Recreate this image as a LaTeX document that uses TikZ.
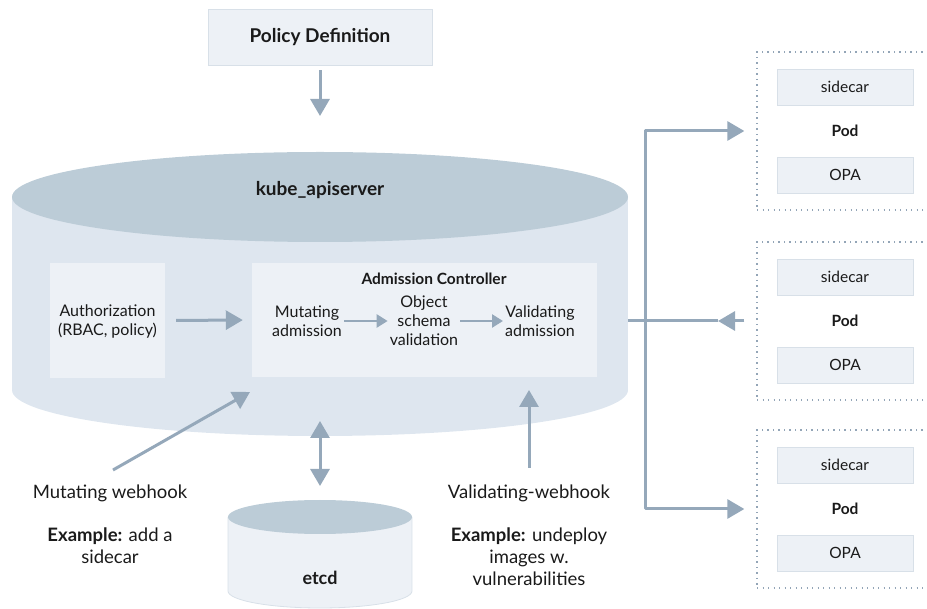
\documentclass[tikz,border=0pt]{standalone}
\usepackage{fontspec}
\setmainfont{Lato}
\usetikzlibrary{arrows.meta,positioning}

\definecolor{topgrey}{HTML}{BCCCD7}
\definecolor{bodyblue}{HTML}{DEE6EF}
\definecolor{boxfill}{HTML}{EDF1F6}
\definecolor{boxline}{HTML}{D8E0E8}
\definecolor{arrowgrey}{HTML}{95A8BA}
\definecolor{dotgrey}{HTML}{93A5B7}
\definecolor{inkblack}{HTML}{1A1A1A}

\begin{document}
\begin{tikzpicture}[x=1pt, y=-1pt, text=inkblack,
    lightbox/.style={draw=boxline, fill=boxfill, line width=0.8pt, inner sep=0pt},
    innerbox/.style={fill=boxfill, inner sep=0pt},
    podframe/.style={draw=dotgrey, line width=1.3pt, dash pattern=on 1.3pt off 4.2pt, inner sep=0pt},
    flow/.style={draw=arrowgrey, line width=3pt, line join=round, -{Triangle[length=17pt,width=19pt]}},
    twoflow/.style={draw=arrowgrey, line width=3pt, {Triangle[length=17pt,width=19pt]}-{Triangle[length=17pt,width=19pt]}},
    smallflow/.style={draw=arrowgrey, line width=2.5pt, -{Triangle[length=11pt,width=13pt]}},
    plainline/.style={draw=arrowgrey, line width=3pt},
    bigtext/.style={font=\fontsize{19}{23}\selectfont\bfseries},
    notetext/.style={font=\fontsize{18.5}{22}\selectfont, align=center},
    boxtext/.style={font=\fontsize{16}{19}\selectfont, align=center, inner sep=2pt},
    podtext/.style={font=\fontsize{15.5}{18}\selectfont}]

    \useasboundingbox (0,0) rectangle (927,609);

    % Policy definition on top
    \node[lightbox, minimum width=224pt, minimum height=56pt, bigtext] (policy) at (320,37) {Policy Definition};
    \coordinate (apitop) at (320,116);
    \draw[flow, shorten <=5pt] (policy.south) -- (apitop);

    % kube_apiserver cylinder
    \fill[bodyblue] (320,390) ellipse [x radius=308, y radius=46];
    \fill[bodyblue] (12,197) rectangle (628,390);
    \fill[topgrey] (320,197) ellipse [x radius=308, y radius=45];
    \node[bigtext] (api) at (320,190) {kube\_apiserver};

    % Authorization and admission boxes
    \node[innerbox, minimum width=115pt, minimum height=115pt] (authbox) at (107.5,320.5) {};
    \node[boxtext] (auth) at (107.5,321) {Authorization\\(RBAC, policy)};
    \node[innerbox, minimum width=345pt, minimum height=114pt] (admbox) at (424.5,320) {};
    \node[font=\fontsize{15.5}{18}\selectfont\bfseries] (admtitle) at (434,279) {Admission Controller};
    \node[boxtext] (mut) at (307,321) {Mutating\\admission};
    \node[boxtext] (obj) at (424,321) {Object\\schema\\validation};
    \node[boxtext] (val) at (540,321) {Validating\\admission};

    \draw[flow, shorten <=11pt, shorten >=9pt] (authbox.east) -- (admbox.west);
    \draw[smallflow] (mut.east) -- (obj.west);
    \draw[smallflow] (obj.east) -- (val.west);

    % Webhooks below the apiserver
    \node[notetext] (mwlabel) at (110,493) {Mutating webhook};
    \node[notetext] (mwexample) at (110,546) {\textbf{Example:} add a\\sidecar};
    \node[notetext] (vwlabel) at (529,493) {Validating-webhook};
    \node[notetext] (vwexample) at (529,557) {\textbf{Example:} undeploy\\images w.\\vulnerabilities};

    \coordinate (mwtail) at (113,470);
    \coordinate (mwtip) at (250,392);
    \coordinate (vwtail) at (529,468);
    \coordinate (vwtip) at (529,390);
    \draw[flow] (mwtail) -- (mwtip);
    \draw[flow] (vwtail) -- (vwtip);

    % etcd cylinder
    \fill[boxfill] (320,591) ellipse [x radius=92, y radius=17];
    \fill[boxfill] (228,517) rectangle (412,591);
    \draw[boxline, line width=0.8pt] (228,517) -- (228,591) arc [start angle=180, end angle=360, x radius=92, y radius=-17] -- (412,517);
    \fill[topgrey] (320,517) ellipse [x radius=92, y radius=17];
    \node[font=\fontsize{18}{22}\selectfont\bfseries] (etcd) at (320,578) {etcd};

    \coordinate (apibottom) at (320,421);
    \coordinate (etcdtop) at (320,486);
    \draw[twoflow] (apibottom) -- (etcdtop);

    % Pods on the right
    \foreach \y/\n in {131/1, 321/2, 509/3} {
        \node[podframe, minimum width=210pt, minimum height=158pt] (pod\n) at (862,\y) {};
        \node[lightbox, minimum width=136pt, minimum height=36pt, podtext] (sidecar\n) at (845,\y-44) {sidecar};
        \node[podtext, font=\fontsize{15.5}{18}\selectfont\bfseries] (podname\n) at (845,\y) {Pod};
        \node[lightbox, minimum width=136pt, minimum height=36pt, podtext] (opa\n) at (845,\y+44) {OPA};
    }

    % Connections to the pods
    \coordinate (apiright) at (628,321);
    \coordinate (branch) at (645,321);
    \coordinate (tiptwo) at (718,321);
    \draw[flow, shorten >=12pt] (branch) |- (pod1.west);
    \draw[flow, shorten >=12pt] (branch) |- (pod3.west);
    \draw[flow, shorten <=12pt] (pod2.west) -- (tiptwo);
    \draw[plainline] (tiptwo) -- (apiright);

\end{tikzpicture}
\end{document}
